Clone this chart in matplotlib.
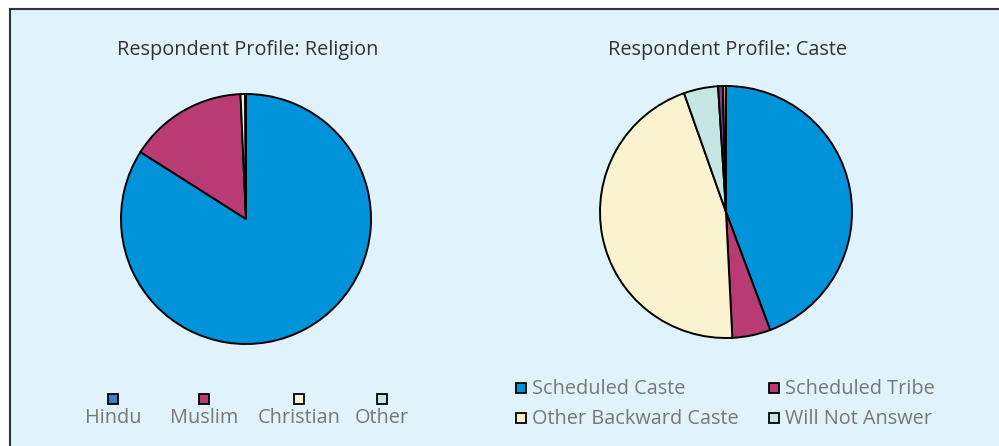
import matplotlib.pyplot as plt
from matplotlib.patches import Rectangle

plt.rcParams['font.family'] = ['Open Sans', 'DejaVu Sans']

# data (percent)
religion_labels = ['Hindu', 'Muslim', 'Christian', 'Other']
religion_values = [84.0, 15.3, 0.6, 0.1]
religion_colors = ['#0093D9', '#B83C73', '#FBF3D0', '#C5E6E3']
religion_legend_colors = ['#3E7FC3', '#B83C73', '#FBF3D0', '#C5E6E3']

caste_labels = ['Scheduled Caste', 'Scheduled Tribe', 'Other Backward Caste',
                'Will Not Answer', 'Other', 'No Caste']
caste_values = [44.3, 4.9, 45.4, 4.4, 0.6, 0.4]
caste_colors = ['#0093D9', '#B83C73', '#FBF3D0', '#C5E6E3', '#7B3F9A', '#E8866A']
caste_legend_n = 4

W, H = 999, 446
fig = plt.figure(figsize=(W / 100, H / 100), dpi=100)
fig.patch.set_facecolor('white')

# framed light blue panel
fig.patches.append(Rectangle((10 / W, -0.05), 1.1, 1 - 9 / H + 0.05,
                             transform=fig.transFigure, facecolor='#E0F2FC',
                             edgecolor='#333333', linewidth=1.5, zorder=-5))


def px_axes(cx, cy, r):
    return fig.add_axes([(cx - r) / W, (H - cy - r) / H, 2 * r / W, 2 * r / H])


wedge_kw = dict(edgecolor='black', linewidth=1.4)

ax1 = px_axes(246, 219, 125)
ax1.pie(religion_values, colors=religion_colors, startangle=90,
        counterclock=False, wedgeprops=wedge_kw)
ax1.set_xlim(-1, 1)
ax1.set_ylim(-1, 1)
ax1.set_aspect('equal')
ax1.axis('off')

ax2 = px_axes(726, 212, 126)
ax2.pie(caste_values, colors=caste_colors, startangle=90,
        counterclock=False, wedgeprops=wedge_kw)
ax2.set_xlim(-1, 1)
ax2.set_ylim(-1, 1)
ax2.set_aspect('equal')
ax2.axis('off')

fig.text(248 / W, 1 - 50 / H, 'Respondent Profile: Religion', ha='center',
         va='center', fontsize=14.3, color='#333333')
fig.text(727 / W, 1 - 50 / H, 'Respondent Profile: Caste', ha='center',
         va='center', fontsize=14.3, color='#333333')

# religion legend: square above each label
rel_x = [113, 204, 299, 382]
for x, lab, col in zip(rel_x, religion_labels, religion_legend_colors):
    fig.patches.append(Rectangle(((x - 5) / W, 1 - 404 / H), 10 / W, 10 / H,
                                 transform=fig.transFigure, facecolor=col,
                                 edgecolor='black', linewidth=1.3))
    fig.text(x / W, 1 - 418 / H, lab, ha='center', va='center',
             fontsize=14.3, color='#777777')

# caste legend: two columns
leg_pos = [(521, 388), (774, 388), (521, 418), (774, 418)]
for (x, y), lab, col in zip(leg_pos, caste_labels[:caste_legend_n],
                            caste_colors[:caste_legend_n]):
    fig.patches.append(Rectangle(((x - 5) / W, 1 - (y + 5) / H), 10 / W, 10 / H,
                                 transform=fig.transFigure, facecolor=col,
                                 edgecolor='black', linewidth=1.3))
    fig.text((x + 11) / W, 1 - (y + 1) / H, lab, ha='left', va='center',
             fontsize=14.3, color='#777777')

fig.savefig('out.png', dpi=100)
